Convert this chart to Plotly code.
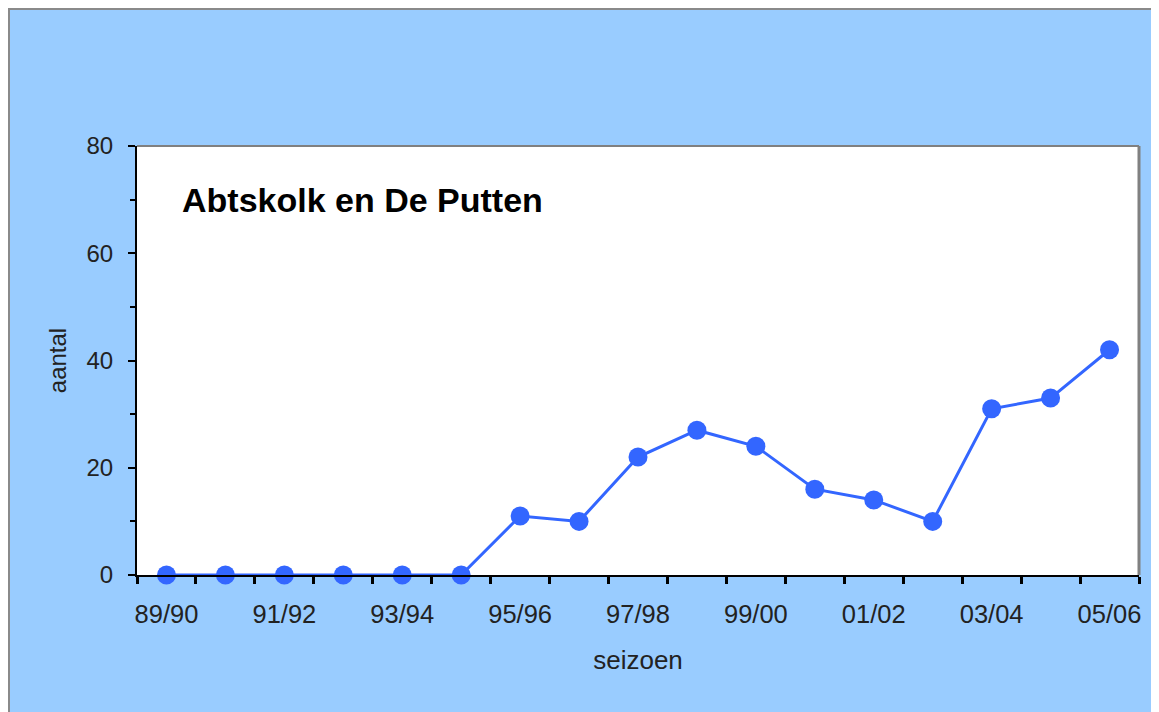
import plotly.graph_objects as go

seasons = ["89/90", "90/91", "91/92", "92/93", "93/94", "94/95", "95/96", "96/97",
           "97/98", "98/99", "99/00", "00/01", "01/02", "02/03", "03/04", "04/05", "05/06"]
counts = [0, 0, 0, 0, 0, 0, 11, 10, 22, 27, 24, 16, 14, 10, 31, 33, 42]
y_ticks = [0, 20, 40, 60, 80]

# figure is placed at (8, 8) in the page by the default body margin
W, H = 1151, 704
L, R, T, B = 129, 20, 138, 137
pw, ph = W - L - R, H - T - B

def px(x):
    return (x - L) / pw

def py(y):
    return (H - B - y) / ph

idx = list(range(len(seasons)))
label_idx = idx[::2]

fig = go.Figure()
fig.add_trace(go.Scatter(
    x=idx, y=counts, mode="lines+markers",
    line=dict(color="#3366FF", width=3),
    marker=dict(color="#3366FF", size=19),
    cliponaxis=False, showlegend=False,
))

font = "Liberation Sans, Arial, sans-serif"
txt = "#222222"
fig.update_layout(
    width=W, height=H,
    margin=dict(l=L, r=R, t=T, b=B),
    paper_bgcolor="#99CCFF",
    plot_bgcolor="white",
    font=dict(family=font, size=24, color=txt),
    xaxis=dict(
        range=[-0.5, len(seasons) - 0.5],
        tickvals=label_idx,
        ticktext=[seasons[i] for i in label_idx],
        ticks="outside", ticklen=15, tickcolor="rgba(0,0,0,0)",
        tickfont=dict(size=25.5, color=txt),
        minor=dict(tickvals=[i - 0.5 for i in range(len(seasons) + 1)],
                   ticks="outside", ticklen=7, tickwidth=3, tickcolor="black",
                   showgrid=False),
        showline=True, linecolor="black", linewidth=2,
        showgrid=False, zeroline=False,
        title=dict(text="seizoen", font=dict(size=26, color=txt), standoff=24),
    ),
    yaxis=dict(
        range=[0, 80],
        tickvals=y_ticks,
        ticks="outside", ticklen=7, tickwidth=2, tickcolor="black",
        ticklabelstandoff=10,
        minor=dict(dtick=10, tick0=0, ticks="outside", ticklen=5, tickwidth=2,
                   tickcolor="black", showgrid=False),
        tickfont=dict(size=24, color=txt),
        showline=True, linecolor="black", linewidth=2,
        showgrid=False, zeroline=False,
        title=dict(text="aantal", font=dict(size=24, color=txt), standoff=13),
    ),
)

shapes = []
# outer frame lines (top and left)
shapes.append(dict(type="line", xref="paper", yref="paper",
                   x0=px(0), x1=px(W + 5), y0=py(1), y1=py(1),
                   line=dict(color="#8A8A8A", width=2), layer="above"))
shapes.append(dict(type="line", xref="paper", yref="paper",
                   x0=px(1), x1=px(1), y0=py(0), y1=py(H + 5),
                   line=dict(color="#8A8A8A", width=2), layer="above"))
# gray top and right borders of plot area
shapes.append(dict(type="line", xref="paper", yref="paper",
                   x0=0, x1=1, y0=1, y1=1,
                   line=dict(color="#808080", width=2), layer="below"))
shapes.append(dict(type="line", xref="paper", yref="paper",
                   x0=1, x1=1, y0=0, y1=1,
                   line=dict(color="#808080", width=3), layer="below"))
fig.update_layout(shapes=shapes)

fig.add_annotation(
    text="<b>Abtskolk en De Putten</b>", xref="paper", yref="paper",
    x=px(172), y=py(192), xanchor="left", yanchor="middle",
    showarrow=False, font=dict(family=font, size=34, color="black"),
)

fig.write_html("out.html")
